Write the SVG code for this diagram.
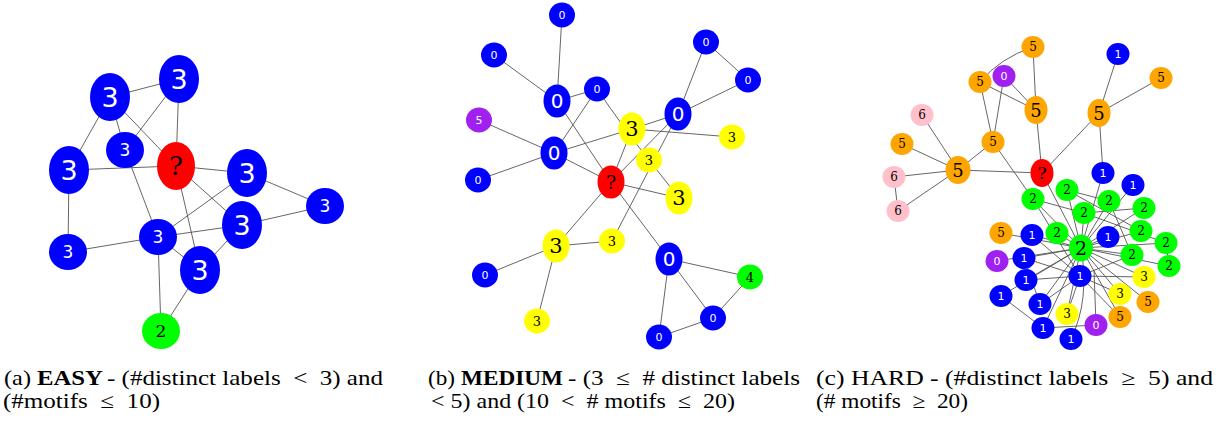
<svg xmlns="http://www.w3.org/2000/svg" width="1231" height="423" viewBox="0 0 1231 423">
<style>
.e{stroke:#555;stroke-width:0.9;fill:none}
.B{fill:#0000ff}.R{fill:#ff0000}.G{fill:#00ff00}.Y{fill:#ffff00}.P{fill:#a020f0}.O{fill:#ffa500}.K{fill:#ffc0cb}
.w{fill:#fff;font-family:"DejaVu Sans",sans-serif;text-anchor:middle;dominant-baseline:central}
.k{fill:#000;font-family:"DejaVu Serif","Liberation Serif",serif;text-anchor:middle;dominant-baseline:central}
.cap{font-family:"Liberation Serif","Times New Roman",serif;font-size:21px;fill:#000}
.bd{font-weight:bold}
</style>
<g id="edges-a" class="e">
<line x1="110" y1="97" x2="179" y2="79"/>
<line x1="110" y1="97" x2="125" y2="150"/>
<line x1="110" y1="97" x2="176" y2="166"/>
<line x1="110" y1="97" x2="69" y2="170"/>
<line x1="179" y1="79" x2="176" y2="166"/>
<line x1="179" y1="79" x2="125" y2="150"/>
<line x1="69" y1="170" x2="176" y2="166"/>
<line x1="69" y1="170" x2="68" y2="252"/>
<line x1="125" y1="150" x2="158" y2="237"/>
<line x1="176" y1="166" x2="247" y2="173"/>
<line x1="176" y1="166" x2="242" y2="225"/>
<line x1="176" y1="166" x2="200" y2="270"/>
<line x1="247" y1="173" x2="325" y2="206"/>
<line x1="247" y1="173" x2="158" y2="237"/>
<line x1="325" y1="206" x2="242" y2="225"/>
<line x1="242" y1="225" x2="158" y2="237"/>
<line x1="242" y1="225" x2="200" y2="270"/>
<line x1="158" y1="237" x2="68" y2="252"/>
<line x1="158" y1="237" x2="200" y2="270"/>
<line x1="158" y1="237" x2="161" y2="331"/>
<line x1="200" y1="270" x2="161" y2="331"/>
</g>
<g id="edges-b" class="e">
<line x1="562" y1="15" x2="557" y2="101"/>
<line x1="494" y1="55" x2="557" y2="101"/>
<line x1="557" y1="101" x2="597" y2="89"/>
<line x1="557" y1="101" x2="611" y2="182"/>
<line x1="597" y1="89" x2="554" y2="153"/>
<path d="M597,89 Q625,130 649,160"/>
<line x1="706" y1="42" x2="748" y2="80"/>
<line x1="706" y1="42" x2="678" y2="114"/>
<line x1="748" y1="80" x2="678" y2="114"/>
<line x1="678" y1="114" x2="632" y2="129"/>
<line x1="678" y1="114" x2="611" y2="182"/>
<line x1="678" y1="114" x2="612" y2="241"/>
<line x1="554" y1="153" x2="632" y2="129"/>
<line x1="479" y1="120" x2="554" y2="153"/>
<line x1="478" y1="180" x2="554" y2="153"/>
<line x1="554" y1="153" x2="611" y2="182"/>
<line x1="632" y1="129" x2="732" y2="137"/>
<line x1="632" y1="129" x2="611" y2="182"/>
<line x1="611" y1="182" x2="679" y2="198"/>
<line x1="611" y1="182" x2="556" y2="246"/>
<line x1="611" y1="182" x2="669" y2="259"/>
<line x1="649" y1="160" x2="679" y2="198"/>
<line x1="556" y1="246" x2="612" y2="241"/>
<line x1="556" y1="246" x2="485" y2="275"/>
<line x1="556" y1="246" x2="537" y2="321"/>
<line x1="669" y1="259" x2="750" y2="277"/>
<line x1="669" y1="259" x2="713" y2="318"/>
<line x1="669" y1="259" x2="659" y2="337"/>
<line x1="750" y1="277" x2="713" y2="318"/>
<line x1="713" y1="318" x2="659" y2="337"/>
</g>
<g id="edges-c" class="e">
<path d="M1033,47 Q1000,58 980,82"/>
<line x1="1033" y1="47" x2="1036" y2="110"/>
<line x1="1004" y1="76" x2="1036" y2="110"/>
<line x1="1004" y1="76" x2="993" y2="142"/>
<line x1="980" y1="82" x2="1036" y2="110"/>
<line x1="980" y1="82" x2="993" y2="142"/>
<line x1="1036" y1="110" x2="1042" y2="173"/>
<line x1="1118" y1="54" x2="1099" y2="113"/>
<line x1="1161" y1="78" x2="1099" y2="113"/>
<line x1="1099" y1="113" x2="1042" y2="173"/>
<line x1="1099" y1="113" x2="1103" y2="173"/>
<line x1="922" y1="115" x2="958" y2="170"/>
<line x1="902" y1="144" x2="958" y2="170"/>
<line x1="993" y1="142" x2="958" y2="170"/>
<line x1="993" y1="142" x2="1033" y2="199"/>
<line x1="958" y1="170" x2="1042" y2="173"/>
<line x1="894" y1="177" x2="958" y2="170"/>
<line x1="898" y1="211" x2="958" y2="170"/>
<line x1="894" y1="177" x2="898" y2="211"/>
<line x1="1042" y1="173" x2="1081" y2="248"/>
<line x1="1103" y1="173" x2="1081" y2="248"/>
<line x1="1133" y1="185" x2="1081" y2="248"/>
<line x1="1033" y1="199" x2="1081" y2="248"/>
<line x1="1033" y1="199" x2="1084" y2="213"/>
<line x1="1033" y1="199" x2="1080" y2="276"/>
<line x1="1067" y1="190" x2="1109" y2="201"/>
<line x1="1067" y1="190" x2="1081" y2="248"/>
<line x1="1067" y1="190" x2="1141" y2="231"/>
<line x1="1109" y1="201" x2="1081" y2="248"/>
<line x1="1109" y1="201" x2="1132" y2="255"/>
<line x1="1084" y1="213" x2="1081" y2="248"/>
<line x1="1084" y1="213" x2="1144" y2="208"/>
<line x1="1084" y1="213" x2="1166" y2="243"/>
<line x1="1144" y1="208" x2="1081" y2="248"/>
<line x1="1141" y1="231" x2="1081" y2="248"/>
<line x1="1166" y1="243" x2="1081" y2="248"/>
<line x1="1166" y1="243" x2="1169" y2="266"/>
<line x1="1169" y1="266" x2="1081" y2="248"/>
<line x1="1132" y1="255" x2="1081" y2="248"/>
<line x1="1132" y1="255" x2="1080" y2="276"/>
<line x1="1108" y1="237" x2="1081" y2="248"/>
<line x1="1057" y1="233" x2="1081" y2="248"/>
<line x1="1032" y1="235" x2="1081" y2="248"/>
<line x1="1032" y1="235" x2="1080" y2="276"/>
<line x1="1001" y1="233" x2="1081" y2="248"/>
<line x1="997" y1="261" x2="1081" y2="248"/>
<line x1="1024" y1="258" x2="1081" y2="248"/>
<line x1="1024" y1="258" x2="1080" y2="276"/>
<line x1="1024" y1="258" x2="1040" y2="304"/>
<line x1="1026" y1="280" x2="1081" y2="248"/>
<line x1="1026" y1="280" x2="1080" y2="276"/>
<line x1="1001" y1="296" x2="1081" y2="248"/>
<line x1="1001" y1="296" x2="1043" y2="328"/>
<line x1="1040" y1="304" x2="1081" y2="248"/>
<line x1="1040" y1="304" x2="1080" y2="276"/>
<line x1="1043" y1="328" x2="1081" y2="248"/>
<line x1="1043" y1="328" x2="1096" y2="325"/>
<path d="M1071,339 Q1090,300 1081,248"/>
<line x1="1067" y1="314" x2="1080" y2="276"/>
<line x1="1067" y1="314" x2="1081" y2="248"/>
<line x1="1096" y1="325" x2="1094" y2="270"/>
<line x1="1120" y1="317" x2="1081" y2="248"/>
<line x1="1120" y1="317" x2="1080" y2="276"/>
<line x1="1120" y1="294" x2="1081" y2="248"/>
<line x1="1120" y1="294" x2="1080" y2="276"/>
<line x1="1148" y1="302" x2="1081" y2="248"/>
<line x1="1144" y1="277" x2="1081" y2="248"/>
<line x1="1144" y1="277" x2="1080" y2="276"/>
</g>
<g id="panel-a">
<g id="a1"><ellipse class="B" cx="110" cy="97" rx="20" ry="24"/><text class="w" x="110" y="97" font-size="27">3</text></g>
<g id="a2"><ellipse class="B" cx="179" cy="79" rx="20" ry="24"/><text class="w" x="179" y="79" font-size="27">3</text></g>
<g id="a3"><ellipse class="B" cx="125" cy="150" rx="19" ry="18"/><text class="w" x="125" y="150" font-size="17">3</text></g>
<g id="a4"><ellipse class="R" cx="176" cy="166" rx="19" ry="24"/><text class="k" x="176" y="166" font-size="26">?</text></g>
<g id="a5"><ellipse class="B" cx="69" cy="170" rx="20" ry="24"/><text class="w" x="69" y="170" font-size="27">3</text></g>
<g id="a6"><ellipse class="B" cx="247" cy="173" rx="20" ry="24"/><text class="w" x="247" y="173" font-size="27">3</text></g>
<g id="a7"><ellipse class="B" cx="325" cy="206" rx="19" ry="18"/><text class="w" x="325" y="206" font-size="17">3</text></g>
<g id="a8"><ellipse class="B" cx="242" cy="225" rx="20" ry="24"/><text class="w" x="242" y="225" font-size="27">3</text></g>
<g id="a9"><ellipse class="B" cx="158" cy="237" rx="19" ry="18"/><text class="w" x="158" y="237" font-size="17">3</text></g>
<g id="a10"><ellipse class="B" cx="68" cy="252" rx="19" ry="18"/><text class="w" x="68" y="252" font-size="17">3</text></g>
<g id="a11"><ellipse class="B" cx="200" cy="270" rx="20" ry="24"/><text class="w" x="200" y="270" font-size="27">3</text></g>
<g id="a12"><ellipse class="G" cx="161" cy="331" rx="19" ry="18"/><text class="k" x="161" y="331" font-size="17">2</text></g>
</g>
<g id="panel-b">
<g id="b1"><ellipse class="B" cx="562" cy="15" rx="13" ry="12.5"/><text class="w" x="562" y="15" font-size="11">0</text></g>
<g id="b2"><ellipse class="B" cx="494" cy="55" rx="13" ry="12.5"/><text class="w" x="494" y="55" font-size="11">0</text></g>
<g id="b3"><ellipse class="B" cx="557" cy="101" rx="13.5" ry="16.5"/><text class="w" x="557" y="101" font-size="20">0</text></g>
<g id="b4"><ellipse class="B" cx="597" cy="89" rx="13" ry="12.5"/><text class="w" x="597" y="89" font-size="11">0</text></g>
<g id="b5"><ellipse class="B" cx="706" cy="42" rx="13" ry="12.5"/><text class="w" x="706" y="42" font-size="11">0</text></g>
<g id="b6"><ellipse class="B" cx="748" cy="80" rx="13" ry="12.5"/><text class="w" x="748" y="80" font-size="11">0</text></g>
<g id="b7"><ellipse class="B" cx="678" cy="114" rx="13.5" ry="16.5"/><text class="w" x="678" y="114" font-size="20">0</text></g>
<g id="b8"><ellipse class="P" cx="479" cy="120" rx="13" ry="12.5"/><text class="w" x="479" y="120" font-size="11">5</text></g>
<g id="b9"><ellipse class="B" cx="554" cy="153" rx="13.5" ry="16.5"/><text class="w" x="554" y="153" font-size="20">0</text></g>
<g id="b10"><ellipse class="B" cx="478" cy="180" rx="13" ry="12.5"/><text class="w" x="478" y="180" font-size="11">0</text></g>
<g id="b11"><ellipse class="Y" cx="632" cy="129" rx="13.5" ry="16.5"/><text class="k" x="632" y="129" font-size="21">3</text></g>
<g id="b12"><ellipse class="Y" cx="732" cy="137" rx="13" ry="12.5"/><text class="k" x="732" y="137" font-size="13">3</text></g>
<g id="b13"><ellipse class="Y" cx="649" cy="160" rx="13" ry="12.5"/><text class="k" x="649" y="160" font-size="13">3</text></g>
<g id="b14"><ellipse class="R" cx="611" cy="182" rx="13.5" ry="16.5"/><text class="k" x="611" y="182" font-size="19">?</text></g>
<g id="b15"><ellipse class="Y" cx="679" cy="198" rx="13.5" ry="16.5"/><text class="k" x="679" y="198" font-size="21">3</text></g>
<g id="b16"><ellipse class="Y" cx="556" cy="246" rx="13.5" ry="16.5"/><text class="k" x="556" y="246" font-size="21">3</text></g>
<g id="b17"><ellipse class="Y" cx="612" cy="241" rx="13" ry="12.5"/><text class="k" x="612" y="241" font-size="13">3</text></g>
<g id="b18"><ellipse class="B" cx="669" cy="259" rx="13.5" ry="16.5"/><text class="w" x="669" y="259" font-size="20">0</text></g>
<g id="b19"><ellipse class="G" cx="750" cy="277" rx="13" ry="12.5"/><text class="k" x="750" y="277" font-size="13">4</text></g>
<g id="b20"><ellipse class="B" cx="485" cy="275" rx="13" ry="12.5"/><text class="w" x="485" y="275" font-size="11">0</text></g>
<g id="b21"><ellipse class="Y" cx="537" cy="321" rx="13" ry="12.5"/><text class="k" x="537" y="321" font-size="13">3</text></g>
<g id="b22"><ellipse class="B" cx="713" cy="318" rx="13" ry="12.5"/><text class="w" x="713" y="318" font-size="11">0</text></g>
<g id="b23"><ellipse class="B" cx="659" cy="337" rx="13" ry="12.5"/><text class="w" x="659" y="337" font-size="11">0</text></g>
</g>
<g id="panel-c">
<g id="c1"><ellipse class="O" cx="1033" cy="47" rx="11.5" ry="11"/><text class="k" x="1033" y="47" font-size="12">5</text></g>
<g id="c2"><ellipse class="P" cx="1004" cy="76" rx="11.5" ry="11"/><text class="w" x="1004" y="76" font-size="11">0</text></g>
<g id="c3"><ellipse class="O" cx="980" cy="82" rx="11.5" ry="11"/><text class="k" x="980" y="82" font-size="12">5</text></g>
<g id="c4"><ellipse class="O" cx="1036" cy="110" rx="11.5" ry="14"/><text class="k" x="1036" y="110" font-size="18">5</text></g>
<g id="c5"><ellipse class="B" cx="1118" cy="54" rx="11.5" ry="11"/><text class="w" x="1118" y="54" font-size="11">1</text></g>
<g id="c6"><ellipse class="O" cx="1161" cy="78" rx="11.5" ry="11"/><text class="k" x="1161" y="78" font-size="12">5</text></g>
<g id="c7"><ellipse class="O" cx="1099" cy="113" rx="11.5" ry="14"/><text class="k" x="1099" y="113" font-size="18">5</text></g>
<g id="c8"><ellipse class="K" cx="922" cy="115" rx="11.5" ry="11"/><text class="k" x="922" y="115" font-size="12">6</text></g>
<g id="c9"><ellipse class="O" cx="993" cy="142" rx="11.5" ry="11"/><text class="k" x="993" y="142" font-size="12">5</text></g>
<g id="c10"><ellipse class="O" cx="902" cy="144" rx="11.5" ry="11"/><text class="k" x="902" y="144" font-size="12">5</text></g>
<g id="c11"><ellipse class="O" cx="958" cy="170" rx="12.5" ry="14"/><text class="k" x="958" y="170" font-size="18">5</text></g>
<g id="c12"><ellipse class="K" cx="894" cy="177" rx="11.5" ry="11"/><text class="k" x="894" y="177" font-size="12">6</text></g>
<g id="c13"><ellipse class="K" cx="898" cy="211" rx="11.5" ry="11"/><text class="k" x="898" y="211" font-size="12">6</text></g>
<g id="c14"><ellipse class="R" cx="1042" cy="173" rx="11.5" ry="14"/><text class="k" x="1042" y="173" font-size="17">?</text></g>
<g id="c15"><ellipse class="B" cx="1103" cy="173" rx="11.5" ry="11"/><text class="w" x="1103" y="173" font-size="11">1</text></g>
<g id="c16"><ellipse class="B" cx="1133" cy="185" rx="11.5" ry="11"/><text class="w" x="1133" y="185" font-size="11">1</text></g>
<g id="c17"><ellipse class="G" cx="1033" cy="199" rx="11.5" ry="11"/><text class="k" x="1033" y="199" font-size="12">2</text></g>
<g id="c18"><ellipse class="G" cx="1067" cy="190" rx="11.5" ry="11"/><text class="k" x="1067" y="190" font-size="12">2</text></g>
<g id="c19"><ellipse class="G" cx="1109" cy="201" rx="11.5" ry="11"/><text class="k" x="1109" y="201" font-size="12">2</text></g>
<g id="c20"><ellipse class="G" cx="1084" cy="213" rx="11.5" ry="11"/><text class="k" x="1084" y="213" font-size="12">2</text></g>
<g id="c21"><ellipse class="G" cx="1144" cy="208" rx="11.5" ry="11"/><text class="k" x="1144" y="208" font-size="12">2</text></g>
<g id="c22"><ellipse class="G" cx="1141" cy="231" rx="11.5" ry="11"/><text class="k" x="1141" y="231" font-size="12">2</text></g>
<g id="c23"><ellipse class="G" cx="1166" cy="243" rx="11.5" ry="11"/><text class="k" x="1166" y="243" font-size="12">2</text></g>
<g id="c24"><ellipse class="G" cx="1169" cy="266" rx="11.5" ry="11"/><text class="k" x="1169" y="266" font-size="12">2</text></g>
<g id="c25"><ellipse class="G" cx="1132" cy="255" rx="11.5" ry="11"/><text class="k" x="1132" y="255" font-size="12">2</text></g>
<g id="c26"><ellipse class="B" cx="1108" cy="237" rx="11.5" ry="11"/><text class="w" x="1108" y="237" font-size="11">1</text></g>
<g id="c27"><ellipse class="G" cx="1057" cy="233" rx="11.5" ry="11"/><text class="k" x="1057" y="233" font-size="12">2</text></g>
<g id="c28"><ellipse class="G" cx="1081" cy="248" rx="12" ry="13.5"/><text class="k" x="1081" y="248" font-size="19">2</text></g>
<g id="c29"><ellipse class="B" cx="1032" cy="235" rx="11.5" ry="11"/><text class="w" x="1032" y="235" font-size="11">1</text></g>
<g id="c30"><ellipse class="O" cx="1001" cy="233" rx="11.5" ry="11"/><text class="k" x="1001" y="233" font-size="12">5</text></g>
<g id="c31"><ellipse class="P" cx="997" cy="261" rx="11.5" ry="11"/><text class="w" x="997" y="261" font-size="11">0</text></g>
<g id="c32"><ellipse class="B" cx="1024" cy="258" rx="11.5" ry="11"/><text class="w" x="1024" y="258" font-size="11">1</text></g>
<g id="c33"><ellipse class="B" cx="1026" cy="280" rx="11.5" ry="11"/><text class="w" x="1026" y="280" font-size="11">1</text></g>
<g id="c34"><ellipse class="B" cx="1080" cy="276" rx="11.5" ry="11"/><text class="w" x="1080" y="276" font-size="11">1</text></g>
<g id="c35"><ellipse class="Y" cx="1144" cy="277" rx="11.5" ry="11"/><text class="k" x="1144" y="277" font-size="12">3</text></g>
<g id="c36"><ellipse class="B" cx="1001" cy="296" rx="11.5" ry="11"/><text class="w" x="1001" y="296" font-size="11">1</text></g>
<g id="c37"><ellipse class="B" cx="1040" cy="304" rx="11.5" ry="11"/><text class="w" x="1040" y="304" font-size="11">1</text></g>
<g id="c38"><ellipse class="Y" cx="1120" cy="294" rx="11.5" ry="11"/><text class="k" x="1120" y="294" font-size="12">3</text></g>
<g id="c39"><ellipse class="O" cx="1148" cy="302" rx="11.5" ry="11"/><text class="k" x="1148" y="302" font-size="12">5</text></g>
<g id="c40"><ellipse class="Y" cx="1067" cy="314" rx="11.5" ry="11"/><text class="k" x="1067" y="314" font-size="12">3</text></g>
<g id="c41"><ellipse class="O" cx="1120" cy="317" rx="11.5" ry="11"/><text class="k" x="1120" y="317" font-size="12">5</text></g>
<g id="c42"><ellipse class="P" cx="1096" cy="325" rx="11.5" ry="11"/><text class="w" x="1096" y="325" font-size="11">0</text></g>
<g id="c43"><ellipse class="B" cx="1043" cy="328" rx="11.5" ry="11"/><text class="w" x="1043" y="328" font-size="11">1</text></g>
<g id="c44"><ellipse class="B" cx="1071" cy="339" rx="11.5" ry="11"/><text class="w" x="1071" y="339" font-size="11">1</text></g>
</g>
<g id="captions" class="cap">
<text x="4" y="385" textLength="27" lengthAdjust="spacingAndGlyphs">(a)</text>
<text class="bd" x="37" y="385" textLength="66" lengthAdjust="spacingAndGlyphs">EASY</text>
<text x="107" y="385" textLength="276" lengthAdjust="spacingAndGlyphs">- (#distinct labels&#160; &lt;&#160; 3) and</text>
<text x="3" y="408" textLength="157" lengthAdjust="spacingAndGlyphs">(#motifs&#160; ≤&#160; 10)</text>
<text x="428" y="385" textLength="27" lengthAdjust="spacingAndGlyphs">(b)</text>
<text class="bd" x="461" y="385" textLength="102" lengthAdjust="spacingAndGlyphs">MEDIUM</text>
<text x="568" y="385" textLength="232" lengthAdjust="spacingAndGlyphs">- (3&#160; ≤&#160; #&#160;distinct labels</text>
<text x="431" y="408" textLength="304" lengthAdjust="spacingAndGlyphs">&lt; 5) and (10&#160; &lt;&#160; #&#160;motifs&#160; ≤&#160; 20)</text>
<text x="816" y="385" textLength="397" lengthAdjust="spacingAndGlyphs">(c) HARD - (#distinct labels&#160; ≥&#160; 5) and</text>
<text x="816" y="408" textLength="152" lengthAdjust="spacingAndGlyphs">(#&#160;motifs&#160; ≥&#160; 20)</text>
</g>
</svg>
